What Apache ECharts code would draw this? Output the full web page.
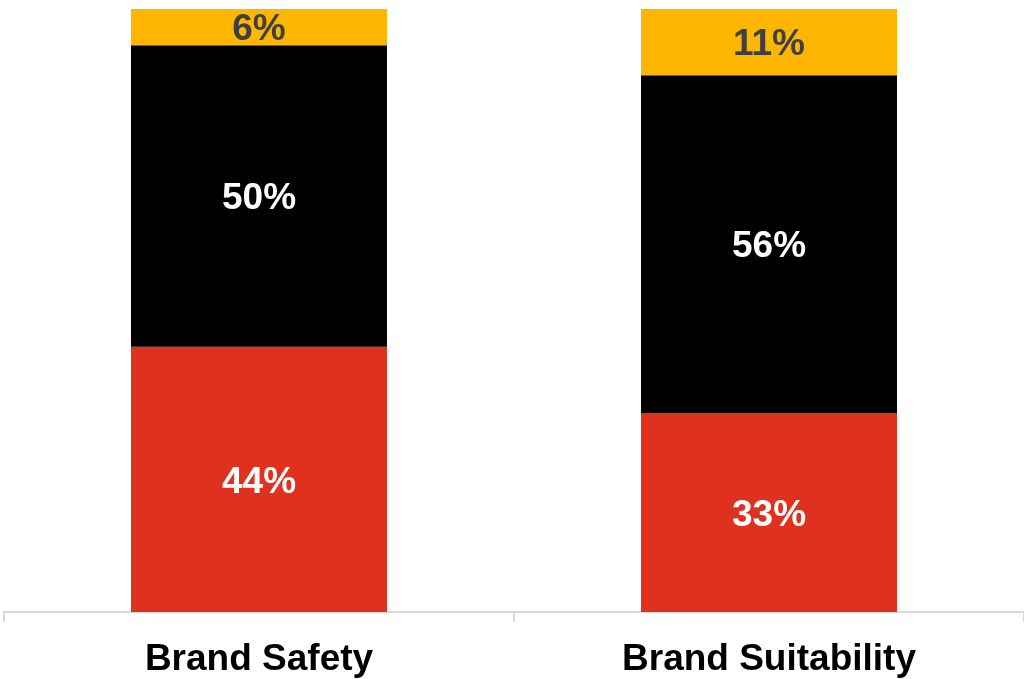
<!DOCTYPE html>
<html>
<head>
<meta charset="utf-8">
<style>
  html, body { margin: 0; padding: 0; background: #ffffff; }
  #chart { width: 1024px; height: 679px; }
</style>
<script src="https://cdn.jsdelivr.net/npm/echarts@6/dist/echarts.min.js"></script>
</head>
<body>
<div id="chart"></div>
<script>
// Stacked shares per category (percent)
const categories = ['Brand Safety', 'Brand Suitability'];
const redShare = [44, 33];
const blackShare = [50, 56];
const yellowShare = [6, 11];

const chart = echarts.init(document.getElementById('chart'));

function segment(name, data, color, labelColor) {
  return {
    name: name,
    type: 'bar',
    stack: 'total',
    data: data,
    barWidth: 256,
    itemStyle: { color: color },
    label: {
      show: true,
      position: 'inside',
      offset: [0, 3],
      formatter: '{c}%',
      color: labelColor,
      fontFamily: 'Liberation Sans, Arial, sans-serif',
      fontWeight: 'bold',
      fontSize: 37
    }
  };
}

chart.setOption({
  animation: false,
  grid: { left: 4, right: -3, top: 9, bottom: 67, containLabel: false },
  xAxis: {
    type: 'category',
    data: categories,
    boundaryGap: true,
    axisLine: { show: true, lineStyle: { color: '#d9d9d9', width: 2 } },
    axisTick: { show: true, length: 10, lineStyle: { color: '#d9d9d9', width: 2 } },
    axisLabel: {
      color: '#000000',
      fontFamily: 'Liberation Sans, Arial, sans-serif',
      fontWeight: 'bold',
      fontSize: 37,
      margin: 29
    }
  },
  yAxis: {
    type: 'value',
    min: 0,
    max: 100,
    show: false,
    splitLine: { show: false }
  },
  series: [
    segment('Red', redShare, '#E0301E', '#ffffff'),
    segment('Black', blackShare, '#000000', '#ffffff'),
    segment('Yellow', yellowShare, '#FFB600', '#404040')
  ]
});
</script>
</body>
</html>
